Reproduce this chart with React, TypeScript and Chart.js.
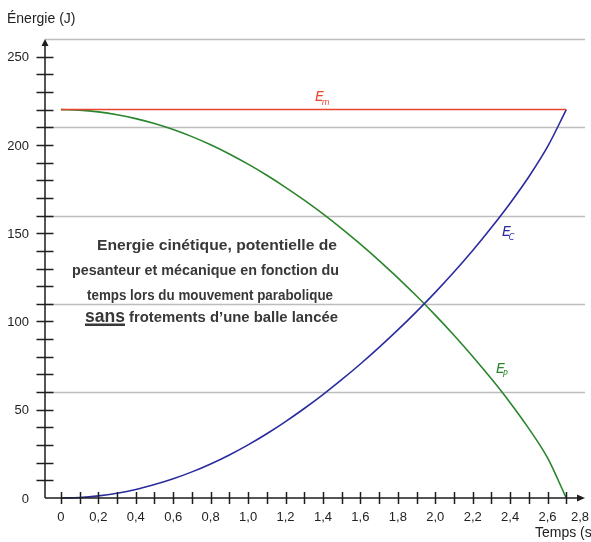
import { useEffect, useRef } from "react";
import { Chart, registerables } from "chart.js";

Chart.register(...registerables);

const times = [0, 0.1, 0.2, 0.3, 0.4, 0.5, 0.6, 0.7, 0.8, 0.9, 1.0, 1.1, 1.2, 1.3, 1.4, 1.5, 1.6, 1.7, 1.8, 1.9, 2.0, 2.1, 2.2, 2.3, 2.4, 2.5, 2.6, 2.7];
const kinetic = [0, 0.3, 1.2, 2.7, 4.8, 7.6, 10.9, 14.8, 19.3, 24.4, 30.1, 36.4, 43.3, 50.7, 58.6, 67.0, 75.9, 85.3, 95.2, 105.6, 116.5, 128.0, 140.2, 153.2, 167.0, 182.0, 199.0, 220.0];
const potential = [220, 219.7, 218.7, 217.1, 214.9, 212.1, 208.7, 204.7, 200.1, 194.9, 189.1, 182.8, 176.0, 168.7, 160.9, 152.6, 143.8, 134.5, 124.7, 114.4, 103.6, 92.2, 80.2, 67.5, 54.0, 39.3, 22.7, 0];
const mechanicalTimes = [0, 2.7];
const mechanical = [220, 220];

const xTickValues = [0, 0.2, 0.4, 0.6, 0.8, 1.0, 1.2, 1.4, 1.6, 1.8, 2.0, 2.2, 2.4, 2.6, 2.8];
const xTickLabels = ["0", "0,2", "0,4", "0,6", "0,8", "1,0", "1,2", "1,4", "1,6", "1,8", "2,0", "2,2", "2,4", "2,6", "2,8"];
const yTickValues = [0, 50, 100, 150, 200, 250];
const yTickLabels = ["0", "50", "100", "150", "200", "250"];
const gridValues = [60, 110, 160, 210, 260];

const yTitle = "Énergie (J)";
const xTitle = "Temps (s)";
const noteLines = [
  "Energie cinétique, potentielle de",
  "pesanteur et mécanique en fonction du",
  "temps lors du mouvement parabolique",
];
const noteEmph = "sans";
const noteLast = "frotements d’une balle lancée";

const RED = "#e8452f";
const BLUE = "#2a2c9e";
const GREEN = "#2a862c";
const AXIS = "#1e1e1e";
const SANS = "'Liberation Sans', Arial, sans-serif";

function fitText(ctx: CanvasRenderingContext2D, text: string, x0: number, x1: number, y: number) {
  const w = ctx.measureText(text).width;
  const s = (x1 - x0) / w;
  ctx.save();
  ctx.translate(x0, y);
  ctx.scale(s, 1);
  ctx.textAlign = "left";
  ctx.fillText(text, 0, 0);
  ctx.restore();
}

const decorPlugin = {
  id: "decor",
  beforeDatasetsDraw(chart: any) {
    const { ctx, scales } = chart;
    const x = scales.x, y = scales.y;
    const left = x.getPixelForValue(x.min);
    const right = x.getPixelForValue(x.max);
    ctx.save();
    ctx.strokeStyle = "#bdbdbd";
    ctx.lineWidth = 1.6;
    for (const g of gridValues) {
      const py = Math.round(y.getPixelForValue(g)) + 0.5;
      ctx.beginPath();
      ctx.moveTo(left, py);
      ctx.lineTo(right, py);
      ctx.stroke();
    }
    ctx.fillStyle = "#383838";
    ctx.textBaseline = "alphabetic";
    ctx.font = "bold 15px " + SANS;
    fitText(ctx, noteLines[0], 97, 337, 249.5);
    fitText(ctx, noteLines[1], 72, 339, 274.5);
    fitText(ctx, noteLines[2], 87, 333, 299.5);
    ctx.font = "bold 18px " + SANS;
    fitText(ctx, noteEmph, 85, 125, 321.5);
    ctx.fillRect(85, 323.5, 40, 2.5);
    ctx.font = "bold 15px " + SANS;
    fitText(ctx, noteLast, 129, 338, 321.5);
    ctx.restore();
  },
  afterDatasetsDraw(chart: any) {
    const { ctx, scales } = chart;
    const x = scales.x, y = scales.y;
    const ax = x.getPixelForValue(x.min);
    const ay = y.getPixelForValue(0);
    const top = y.getPixelForValue(y.max);
    const right = x.getPixelForValue(x.max);
    ctx.save();
    ctx.strokeStyle = AXIS;
    ctx.fillStyle = AXIS;
    ctx.lineWidth = 1.5;
    ctx.beginPath();
    ctx.moveTo(ax, ay);
    ctx.lineTo(ax, top + 5);
    ctx.moveTo(ax, ay);
    ctx.lineTo(right - 6, ay);
    ctx.stroke();
    ctx.beginPath();
    ctx.moveTo(ax, top);
    ctx.lineTo(ax - 3.5, top + 7);
    ctx.lineTo(ax + 3.5, top + 7);
    ctx.closePath();
    ctx.fill();
    ctx.beginPath();
    ctx.moveTo(right, ay);
    ctx.lineTo(right - 8, ay - 3.5);
    ctx.lineTo(right - 8, ay + 3.5);
    ctx.closePath();
    ctx.fill();
    for (let v = 10; v <= 250; v += 10) {
      const py = Math.round(y.getPixelForValue(v)) + 0.5;
      ctx.beginPath();
      ctx.moveTo(ax - 8.5, py);
      ctx.lineTo(ax + 8.5, py);
      ctx.stroke();
    }
    for (let i = 0; i <= 27; i++) {
      const px = Math.round(x.getPixelForValue(i / 10)) + 0.5;
      ctx.beginPath();
      ctx.moveTo(px, ay - 6);
      ctx.lineTo(px, ay + 6);
      ctx.stroke();
    }
    ctx.fillStyle = "#222";
    ctx.font = "13px " + SANS;
    ctx.textAlign = "center";
    ctx.textBaseline = "middle";
    xTickValues.forEach((v, i) => {
      let px = x.getPixelForValue(v);
      if (i === xTickValues.length - 1) px -= 5;
      ctx.fillText(xTickLabels[i], px, ay + 19);
    });
    ctx.textAlign = "right";
    yTickValues.forEach((v, i) => {
      ctx.fillText(yTickLabels[i], ax - 16, y.getPixelForValue(v) + 1);
    });
    ctx.textAlign = "left";
    ctx.textBaseline = "alphabetic";
    ctx.font = "14px " + SANS;
    ctx.fillText(yTitle, 7, 23);
    ctx.fillText(xTitle, 535, 537);
    const label = (main: string, sub: string, color: string, px: number, py: number) => {
      ctx.fillStyle = color;
      ctx.font = "italic 14px 'DejaVu Sans', sans-serif";
      ctx.fillText(main, px, py);
      const w = ctx.measureText(main).width;
      ctx.font = "italic 8px 'DejaVu Sans', sans-serif";
      ctx.fillText(sub, px + w - 2, py + 4);
    };
    label("E", "m", RED, 315, 101);
    label("E", "C", BLUE, 502, 236);
    label("E", "P", GREEN, 496, 373);
    ctx.restore();
  },
};

export default function App() {
  const ref = useRef<HTMLCanvasElement | null>(null);
  useEffect(() => {
    if (!ref.current) return;
    const toXY = (xs: number[], ys: number[]) => xs.map((t, i) => ({ x: t, y: ys[i] }));
    const chart = new Chart(ref.current, {
      type: "line",
      data: {
        datasets: [
          { label: "Em", data: toXY(mechanicalTimes, mechanical), borderColor: RED, borderWidth: 1.5, pointRadius: 0, tension: 0, clip: false } as any,
          { label: "Ec", data: toXY(times, kinetic), borderColor: BLUE, borderWidth: 1.6, pointRadius: 0, cubicInterpolationMode: "monotone", clip: false } as any,
          { label: "Ep", data: toXY(times, potential), borderColor: GREEN, borderWidth: 1.6, pointRadius: 0, cubicInterpolationMode: "monotone", clip: false } as any,
        ],
      },
      options: {
        animation: false,
        responsive: false,
        events: [],
        layout: { padding: { left: 45, right: 6, top: 39, bottom: 44 } },
        plugins: { legend: { display: false }, tooltip: { enabled: false } },
        scales: {
          x: { type: "linear", min: -0.085, max: 2.8, display: false },
          y: { type: "linear", min: 0, max: 260, display: false },
        },
      },
      plugins: [decorPlugin],
    });
    return () => chart.destroy();
  }, []);
  return (
    <div style={{ position: "absolute", left: 0, top: 0, width: 591, height: 542, background: "#fff" }}>
      <canvas ref={ref} width={591} height={542} style={{ width: 591, height: 542, display: "block" }} />
    </div>
  );
}
